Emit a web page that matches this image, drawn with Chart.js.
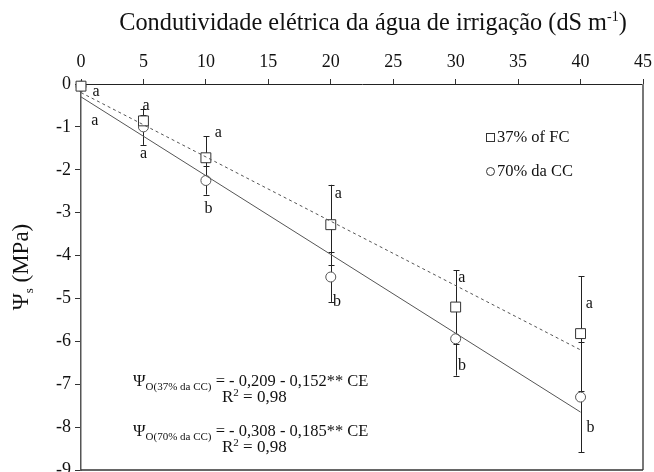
<!DOCTYPE html>
<html>
<head>
<meta charset="utf-8">
<script src="https://cdn.jsdelivr.net/npm/chart.js@4"></script>
<style>
    html, body { margin: 0; padding: 0; background: #fff; }
</style>
</head>
<body>
<canvas id="chart" width="654" height="472"></canvas>
<script>
// electrical conductivity of irrigation water (dS m-1)
const ceLevels = [0, 5, 10, 20, 30, 40];

// osmotic potential (MPa) and error bar half-widths
const psi37 = [-0.05, -0.86, -1.72, -3.28, -5.20, -5.82];
const err37 = [0.05, 0.14, 0.50, 0.93, 0.86, 1.34];
const psi70 = [-0.05, -1.00, -2.25, -4.50, -5.94, -7.30];
const err70 = [0.05, 0.42, 0.33, 0.58, 0.86, 1.28];

// fitted lines, read at both ends
const fitX = [0, 40];
const fit37 = [-0.20, -6.20];
const fit70 = [-0.30, -7.65];

// significance letters
const letterX = [1.2, 1.1, 5.2, 5.0, 11.0, 10.2, 20.6, 20.5, 30.5, 30.5, 40.7, 40.8];
const letterY = [-0.19, -0.86, -0.51, -1.63, -1.14, -2.90, -2.56, -5.07, -4.53, -6.58, -5.12, -8.02];
const letterText = ['a', 'a', 'a', 'a', 'a', 'b', 'a', 'b', 'a', 'b', 'a', 'b'];

const xTicks = [0, 5, 10, 15, 20, 25, 30, 35, 40, 45];
const yTicks = [0, -1, -2, -3, -4, -5, -6, -7, -8, -9];

const serif = '"Liberation Serif", "Times New Roman", serif';

function toPoints(xs, ys) {
    return xs.map((x, i) => ({ x, y: ys[i] }));
}

// draws a row of text pieces, each with its own size and vertical shift
function drawRuns(ctx, x, y, runs) {
    let cx = x;
    runs.forEach(run => {
        ctx.font = `${run.size}px ${serif}`;
        ctx.fillText(run.text, cx, y + (run.dy || 0));
        cx += ctx.measureText(run.text).width;
    });
    return cx;
}

function runsWidth(ctx, runs) {
    return runs.reduce((w, run) => {
        ctx.font = `${run.size}px ${serif}`;
        return w + ctx.measureText(run.text).width;
    }, 0);
}

const errorBars = {
    id: 'errorBars',
    beforeDatasetsDraw(chart) {
        const { ctx, scales: { x, y } } = chart;
        ctx.save();
        ctx.strokeStyle = '#222';
        ctx.lineWidth = 1;
        [[psi37, err37], [psi70, err70]].forEach(([vals, errs]) => {
            ceLevels.forEach((ce, i) => {
                const px = Math.round(x.getPixelForValue(ce)) + 0.5;
                const top = y.getPixelForValue(vals[i] + errs[i]);
                const bottom = y.getPixelForValue(vals[i] - errs[i]);
                ctx.beginPath();
                ctx.moveTo(px, top);
                ctx.lineTo(px, bottom);
                ctx.moveTo(px - 3, Math.round(top) + 0.5);
                ctx.lineTo(px + 3, Math.round(top) + 0.5);
                ctx.moveTo(px - 3, Math.round(bottom) + 0.5);
                ctx.lineTo(px + 3, Math.round(bottom) + 0.5);
                ctx.stroke();
            });
        });
        ctx.restore();
    }
};

const annotations = {
    id: 'annotations',
    afterDraw(chart) {
        const { ctx, chartArea: area, scales: { x, y } } = chart;
        ctx.save();

        // right and bottom frame
        ctx.strokeStyle = '#777';
        ctx.lineWidth = 2;
        ctx.beginPath();
        ctx.moveTo(area.right, area.top);
        ctx.lineTo(area.right, area.bottom);
        ctx.stroke();
        ctx.strokeStyle = '#333';
        ctx.lineWidth = 1.5;
        ctx.beginPath();
        ctx.moveTo(area.left, area.bottom);
        ctx.lineTo(area.right, area.bottom);
        ctx.stroke();

        ctx.fillStyle = '#111';
        ctx.textBaseline = 'middle';
        ctx.textAlign = 'center';
        ctx.font = `16px ${serif}`;
        letterText.forEach((t, i) => {
            ctx.fillText(t, x.getPixelForValue(letterX[i]), y.getPixelForValue(letterY[i]));
        });

        // legend
        ctx.textAlign = 'left';
        ctx.strokeStyle = '#333';
        ctx.lineWidth = 1;
        ctx.strokeRect(486.5, 133.5, 8, 8);
        ctx.beginPath();
        ctx.arc(490.5, 171.5, 4, 0, Math.PI * 2);
        ctx.stroke();
        ctx.font = `16.5px ${serif}`;
        ctx.fillText('37% of FC', 497, 138);
        ctx.fillText('70% da CC', 497, 172);

        // regression equations
        ctx.textBaseline = 'alphabetic';
        drawRuns(ctx, 133, 386, [
            { text: 'Ψ', size: 17 },
            { text: 'O(37% da CC)', size: 11, dy: 4 },
            { text: ' = - 0,209 - 0,152** CE', size: 16.5 }
        ]);
        drawRuns(ctx, 222, 402, [
            { text: 'R', size: 17 },
            { text: '2', size: 11, dy: -6 },
            { text: ' = 0,98', size: 17 }
        ]);
        drawRuns(ctx, 133, 436, [
            { text: 'Ψ', size: 17 },
            { text: 'O(70% da CC)', size: 11, dy: 4 },
            { text: ' = - 0,308 - 0,185** CE', size: 16.5 }
        ]);
        drawRuns(ctx, 222, 452, [
            { text: 'R', size: 17 },
            { text: '2', size: 11, dy: -6 },
            { text: ' = 0,98', size: 17 }
        ]);

        // top axis title
        const titleRuns = [
            { text: 'Condutividade elétrica da água de irrigação (dS m', size: 24.3 },
            { text: '-1', size: 14, dy: -9 },
            { text: ')', size: 24.3 }
        ];
        const tw = runsWidth(ctx, titleRuns);
        drawRuns(ctx, 373 - tw / 2, 30, titleRuns);

        // left axis title, rotated
        const yRuns = [
            { text: 'Ψ', size: 23 },
            { text: 's', size: 13, dy: 5 },
            { text: ' (MPa)', size: 23 }
        ];
        const yw = runsWidth(ctx, yRuns);
        ctx.translate(28, 267);
        ctx.rotate(-Math.PI / 2);
        drawRuns(ctx, -yw / 2, 0, yRuns);

        ctx.restore();
    }
};

new Chart(document.getElementById('chart'), {
    type: 'scatter',
    data: {
        datasets: [
            {
                type: 'line',
                label: 'fit 37%',
                data: toPoints(fitX, fit37),
                borderColor: '#555',
                borderWidth: 1,
                borderDash: [3, 3],
                pointRadius: 0,
                fill: false
            },
            {
                type: 'line',
                label: 'fit 70%',
                data: toPoints(fitX, fit70),
                borderColor: '#555',
                borderWidth: 1,
                pointRadius: 0,
                fill: false
            },
            {
                label: '37% of FC',
                data: toPoints(ceLevels, psi37),
                pointStyle: 'rect',
                pointRadius: 7,
                borderColor: '#333',
                backgroundColor: '#fff',
                borderWidth: 1,
                clip: false
            },
            {
                label: '70% da CC',
                data: toPoints(ceLevels, psi70),
                pointStyle: 'circle',
                pointRadius: 5,
                borderColor: '#555',
                backgroundColor: '#fff',
                borderWidth: 1,
                clip: false
            }
        ]
    },
    options: {
        responsive: false,
        animation: false,
        layout: { autoPadding: false, padding: { top: 0, left: 0, right: 11, bottom: 2 } },
        plugins: {
            legend: { display: false },
            tooltip: { enabled: false }
        },
        scales: {
            x: {
                type: 'linear',
                position: 'top',
                min: 0,
                max: 45,
                afterBuildTicks: axis => { axis.ticks = xTicks.map(value => ({ value })); },
                afterFit: axis => { axis.height = 84; axis.paddingLeft = 0; axis.paddingRight = 0; },
                ticks: { color: '#111', font: { family: serif, size: 18 }, padding: 6 },
                grid: { drawOnChartArea: false, tickLength: 5, color: '#333' },
                border: { color: '#222', width: 1 }
            },
            y: {
                min: -9,
                max: 0,
                afterBuildTicks: axis => { axis.ticks = yTicks.map(value => ({ value })); },
                afterFit: axis => { axis.width = 81; axis.paddingTop = 0; axis.paddingBottom = 0; },
                ticks: { color: '#111', font: { family: serif, size: 18 }, padding: 4 },
                grid: { drawOnChartArea: false, tickLength: 6, color: '#333' },
                border: { color: '#555', width: 1.5 }
            }
        }
    },
    plugins: [errorBars, annotations]
});
</script>
</body>
</html>
